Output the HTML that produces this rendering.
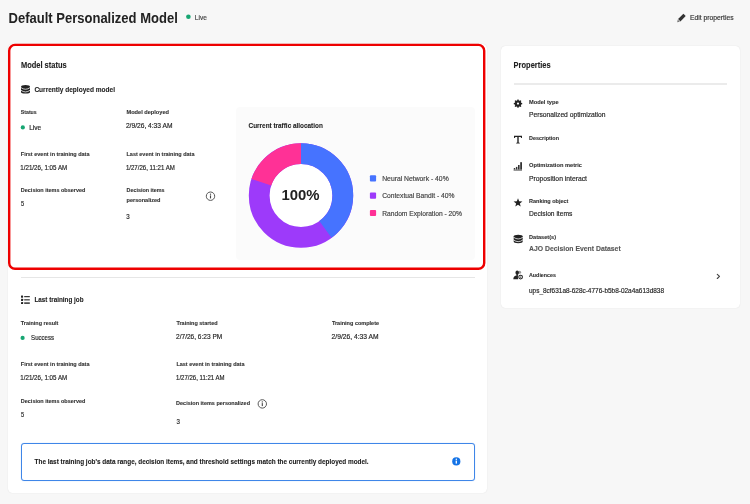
<!DOCTYPE html>
<html><head><meta charset="utf-8">
<style>
*{margin:0;padding:0;box-sizing:border-box}
html,body{width:750px;height:504px;overflow:hidden;background:#f7f7f7;font-family:"Liberation Sans",sans-serif;color:#2c2c2c}
.a{position:absolute}
.card{position:absolute;background:#fff;border-radius:4.5px;box-shadow:0 0 1.2px rgba(0,0,0,.13)}
.dot{position:absolute;width:4.2px;height:4.2px;border-radius:50%;background:#17a672}
svg text{font-family:"Liberation Sans",sans-serif}
</style></head><body>
<!-- cards -->
<div class="card" style="left:8px;top:44px;width:479px;height:448.5px"></div>
<div class="card" style="left:501px;top:46px;width:239px;height:262px"></div>
<!-- chart panel -->
<div class="a" style="left:236px;top:107px;width:239px;height:153px;background:#fbfbfb;border-radius:4px"></div>
<!-- red highlight -->
<!-- dividers -->
<div class="a" style="left:21px;top:277px;width:453.6px;height:1px;background:#e6e6e6"></div>
<div class="a" style="left:513.6px;top:83.2px;width:213.4px;height:1.5px;background:#ebebeb"></div>
<!-- status dots -->
<!-- blue notice -->
<div class="a" style="left:20.5px;top:443px;width:454.3px;height:37.7px;border:1.4px solid #3f86e8;border-radius:3px;background:#fff;box-shadow:0 0 1px #9cc3f5"></div>

<svg class="a" style="left:0;top:0;will-change:transform" width="750" height="504" viewBox="0 0 750 504">
<rect x="9.2" y="44.9" width="475" height="223.9" rx="5.8" fill="none" stroke="#ee0000" stroke-width="2.4"/>
<circle cx="188.4" cy="16.7" r="2.3" fill="#17a672"/><circle cx="22.8" cy="127.4" r="2.1" fill="#17a672"/><circle cx="22.6" cy="337.9" r="2.1" fill="#17a672"/>
<!-- donut -->
<circle cx="301" cy="195.5" r="32" fill="#fff"/>
<g transform="translate(301 195.5) rotate(-90)" fill="none" stroke-width="20.8">
<circle r="41.8" stroke="#9d3afa"/>
<circle r="41.8" stroke="#ff3196" stroke-dasharray="53.2 262.64" stroke-dashoffset="-210.12"/>
<circle r="41.8" stroke="#4673ff" stroke-dasharray="105.06 262.64"/>
</g>
<!-- legend swatches -->
<rect x="369.9" y="175.3" width="6.2" height="6.2" rx="1" fill="#4673ff"/>
<rect x="369.9" y="192.6" width="6.2" height="6.2" rx="1" fill="#9d3afa"/>
<rect x="369.9" y="209.9" width="6.2" height="6.2" rx="1" fill="#ff3196"/>

<!-- pencil -->
<path d="M683.4 13.8 L685.7 16.1 L680.4 21.4 L678.1 19.1 Z" fill="#333"/>
<path d="M677.8 19.6 L679.9 21.7 L677.1 22.3 Z" fill="#777"/>

<!-- db icon (left) -->
<g id="db" fill="#222">
<path d="M21 86.6 A4.5 1.6 0 0 1 30 86.6 V91.9 A4.5 1.6 0 0 1 21 91.9 Z"/>
<path d="M20.8 87.5 Q25.5 91 30.2 87.5 M20.8 90.2 Q25.5 93.7 30.2 90.2" fill="none" stroke="#fff" stroke-width=".75"/>
</g>
<!-- db icon (right) -->
<g fill="#222" transform="translate(492.7 149.7)">
<path d="M21 86.6 A4.5 1.6 0 0 1 30 86.6 V91.9 A4.5 1.6 0 0 1 21 91.9 Z"/>
<path d="M20.8 87.5 Q25.5 91 30.2 87.5 M20.8 90.2 Q25.5 93.7 30.2 90.2" fill="none" stroke="#fff" stroke-width=".75"/>
</g>

<!-- list icon -->
<g fill="#222">
<rect x="21" y="295.6" width="2.1" height="2.1" rx=".4"/><rect x="24.2" y="296.1" width="5.6" height="1.1"/>
<rect x="21" y="298.8" width="2.1" height="2.1" rx=".4"/><rect x="24.2" y="299.3" width="5.6" height="1.1"/>
<rect x="21" y="302" width="2.1" height="2.1" rx=".4"/><rect x="24.2" y="302.4" width="5.6" height="1.4"/>
</g>

<!-- info outline icons -->
<g fill="none" stroke="#555" stroke-width="1">
<circle cx="210.5" cy="196.2" r="4.2"/>
<circle cx="262.3" cy="403.9" r="4.2"/>
</g>
<g fill="#444">
<circle cx="210.5" cy="194.2" r=".65"/><rect x="209.95" y="195.4" width="1.1" height="3"/>
<circle cx="262.3" cy="401.9" r=".65"/><rect x="261.75" y="403.1" width="1.1" height="3"/>
</g>

<!-- info filled -->
<circle cx="456.3" cy="461.4" r="4.1" fill="#1473e6"/>
<circle cx="456.3" cy="459.3" r=".75" fill="#fff"/><rect x="455.65" y="460.6" width="1.3" height="3" fill="#fff"/>

<!-- gear -->
<path fill="#222" fill-rule="evenodd" d="M517.40 99.39 L518.60 99.39 L518.81 100.45 L519.65 100.80 L520.55 100.20 L521.40 101.05 L520.80 101.95 L521.15 102.79 L522.21 103.00 L522.21 104.20 L521.15 104.41 L520.80 105.25 L521.40 106.15 L520.55 107.00 L519.65 106.40 L518.81 106.75 L518.60 107.81 L517.40 107.81 L517.19 106.75 L516.35 106.40 L515.45 107.00 L514.60 106.15 L515.20 105.25 L514.85 104.41 L513.79 104.20 L513.79 103.00 L514.85 102.79 L515.20 101.95 L514.60 101.05 L515.45 100.20 L516.35 100.80 L517.19 100.45 Z M516.9 103.6 a1.1 1.1 0 1 0 2.2 0 a1.1 1.1 0 1 0 -2.2 0 Z"/>
<!-- T icon -->
<path fill="#222" d="M514 135.8 H522 V137.9 H521.2 Q521.1 137 520.2 137 H518.7 V142.2 Q518.7 142.7 519.8 142.8 V143.4 H516.2 V142.8 Q517.3 142.7 517.3 142.2 V137 H515.8 Q514.9 137 514.8 137.9 H514 Z"/>
<!-- bars -->
<g fill="#333">
<rect x="513.8" y="168" width="1.4" height="1.6"/>
<rect x="515.9" y="166.9" width="1.5" height="2.7"/>
<rect x="518" y="165" width="1.6" height="4.6"/>
<rect x="520.2" y="162.2" width="1.8" height="7.4"/>
<rect x="513.6" y="169.6" width="8.4" height="1" fill="#555"/>
</g>
<!-- star -->
<path fill="#222" d="M518.00 198.20 L519.15 201.27 L522.42 201.41 L519.85 203.45 L520.73 206.61 L518.00 204.80 L515.27 206.61 L516.15 203.45 L513.58 201.41 L516.85 201.27 Z"/>
<!-- audience -->
<g>
<circle cx="519.6" cy="272.3" r="1.5" fill="#999"/>
<ellipse cx="517.2" cy="272.7" rx="1.75" ry="2.15" fill="#222"/><rect x="516.5" y="274" width="1.4" height="1.6" fill="#222"/>
<path d="M513.3 279.2 Q513.3 275.6 517 275.2 L518.2 275.2 L518.2 279.2 Z" fill="#222"/>
<circle cx="520.6" cy="277.1" r="2.75" fill="#fff"/>
<circle cx="520.6" cy="277.1" r="1.85" fill="none" stroke="#222" stroke-width="1.05"/>
<circle cx="520.6" cy="277.1" r=".6" fill="#222"/>
</g>
<!-- chevron -->
<path d="M717.3 274.3 L719.5 276.4 L717.3 278.5" fill="none" stroke="#444" stroke-width="1.15" stroke-linecap="round" stroke-linejoin="round"/>

<text x="8.5" y="23.3" font-size="15.1" font-weight="bold" fill="#222" textLength="169.3" lengthAdjust="spacingAndGlyphs">Default Personalized Model</text>
<text x="194.8" y="19.6" font-size="7.4" stroke="#444" stroke-width=".18" fill="#444" textLength="12.1" lengthAdjust="spacingAndGlyphs">Live</text>
<text x="690.0" y="20.4" font-size="7.4" stroke="#333" stroke-width=".18" fill="#333" textLength="43.6" lengthAdjust="spacingAndGlyphs">Edit properties</text>
<text x="21.0" y="68.0" font-size="8.4" font-weight="bold" stroke="#222" stroke-width=".1" fill="#222" textLength="45.6" lengthAdjust="spacingAndGlyphs">Model status</text>
<text x="34.4" y="92.0" font-size="7.6" font-weight="bold" stroke="#222" stroke-width=".1" fill="#222" textLength="80.6" lengthAdjust="spacingAndGlyphs">Currently deployed model</text>
<text x="20.8" y="114.4" font-size="6.0" font-weight="bold" stroke="#333" stroke-width=".12" fill="#333" textLength="15.9" lengthAdjust="spacingAndGlyphs">Status</text>
<text x="29.2" y="129.8" font-size="7.1" stroke="#262626" stroke-width=".18" fill="#262626" textLength="12.0" lengthAdjust="spacingAndGlyphs">Live</text>
<text x="126.5" y="114.4" font-size="6.0" font-weight="bold" stroke="#333" stroke-width=".12" fill="#333" textLength="42.5" lengthAdjust="spacingAndGlyphs">Model deployed</text>
<text x="125.9" y="128.2" font-size="7.1" stroke="#262626" stroke-width=".18" fill="#262626" textLength="46.6" lengthAdjust="spacingAndGlyphs">2/9/26, 4:33 AM</text>
<text x="20.8" y="155.8" font-size="6.0" font-weight="bold" stroke="#333" stroke-width=".12" fill="#333" textLength="68.7" lengthAdjust="spacingAndGlyphs">First event in training data</text>
<text x="20.3" y="170.2" font-size="7.1" stroke="#262626" stroke-width=".18" fill="#262626" textLength="46.9" lengthAdjust="spacingAndGlyphs">1/21/26, 1:05 AM</text>
<text x="126.5" y="155.8" font-size="6.0" font-weight="bold" stroke="#333" stroke-width=".12" fill="#333" textLength="68.0" lengthAdjust="spacingAndGlyphs">Last event in training data</text>
<text x="125.9" y="170.2" font-size="7.1" stroke="#262626" stroke-width=".18" fill="#262626" textLength="49.0" lengthAdjust="spacingAndGlyphs">1/27/26, 11:21 AM</text>
<text x="20.8" y="192.2" font-size="6.0" font-weight="bold" stroke="#333" stroke-width=".12" fill="#333" textLength="64.6" lengthAdjust="spacingAndGlyphs">Decision items observed</text>
<text x="21.1" y="206.0" font-size="7.1" stroke="#262626" stroke-width=".18" fill="#262626" textLength="3.1" lengthAdjust="spacingAndGlyphs">5</text>
<text x="126.5" y="192.2" font-size="6.0" font-weight="bold" stroke="#333" stroke-width=".12" fill="#333" textLength="38.1" lengthAdjust="spacingAndGlyphs">Decision items</text>
<text x="126.5" y="201.6" font-size="6.0" font-weight="bold" stroke="#333" stroke-width=".12" fill="#333" textLength="34.0" lengthAdjust="spacingAndGlyphs">personalized</text>
<text x="126.3" y="218.6" font-size="7.1" stroke="#262626" stroke-width=".18" fill="#262626" textLength="3.4" lengthAdjust="spacingAndGlyphs">3</text>
<text x="248.6" y="128.0" font-size="7.2" font-weight="bold" stroke="#222" stroke-width=".1" fill="#222" textLength="74.2" lengthAdjust="spacingAndGlyphs">Current traffic allocation</text>
<text x="281.4" y="199.6" font-size="15.4" font-weight="bold" fill="#222" textLength="38.1" lengthAdjust="spacingAndGlyphs">100%</text>
<text x="382.2" y="181.0" font-size="7.3" stroke="#444" stroke-width=".18" fill="#444" textLength="66.5" lengthAdjust="spacingAndGlyphs">Neural Network - 40%</text>
<text x="382.2" y="198.3" font-size="7.3" stroke="#444" stroke-width=".18" fill="#444" textLength="72.3" lengthAdjust="spacingAndGlyphs">Contextual Bandit - 40%</text>
<text x="382.2" y="215.6" font-size="7.3" stroke="#444" stroke-width=".18" fill="#444" textLength="79.7" lengthAdjust="spacingAndGlyphs">Random Exploration - 20%</text>
<text x="34.4" y="302.4" font-size="7.6" font-weight="bold" stroke="#222" stroke-width=".1" fill="#222" textLength="49.2" lengthAdjust="spacingAndGlyphs">Last training job</text>
<text x="20.8" y="324.7" font-size="6.0" font-weight="bold" stroke="#333" stroke-width=".12" fill="#333" textLength="37.6" lengthAdjust="spacingAndGlyphs">Training result</text>
<text x="31.1" y="340.2" font-size="7.1" stroke="#262626" stroke-width=".18" fill="#262626" textLength="22.9" lengthAdjust="spacingAndGlyphs">Success</text>
<text x="176.4" y="324.7" font-size="6.0" font-weight="bold" stroke="#333" stroke-width=".12" fill="#333" textLength="41.2" lengthAdjust="spacingAndGlyphs">Training started</text>
<text x="176.1" y="338.7" font-size="7.1" stroke="#262626" stroke-width=".18" fill="#262626" textLength="46.1" lengthAdjust="spacingAndGlyphs">2/7/26, 6:23 PM</text>
<text x="331.9" y="324.7" font-size="6.0" font-weight="bold" stroke="#333" stroke-width=".12" fill="#333" textLength="47.2" lengthAdjust="spacingAndGlyphs">Training complete</text>
<text x="331.6" y="338.7" font-size="7.1" stroke="#262626" stroke-width=".18" fill="#262626" textLength="46.9" lengthAdjust="spacingAndGlyphs">2/9/26, 4:33 AM</text>
<text x="20.8" y="366.3" font-size="6.0" font-weight="bold" stroke="#333" stroke-width=".12" fill="#333" textLength="68.7" lengthAdjust="spacingAndGlyphs">First event in training data</text>
<text x="20.3" y="380.4" font-size="7.1" stroke="#262626" stroke-width=".18" fill="#262626" textLength="46.9" lengthAdjust="spacingAndGlyphs">1/21/26, 1:05 AM</text>
<text x="176.4" y="366.3" font-size="6.0" font-weight="bold" stroke="#333" stroke-width=".12" fill="#333" textLength="68.1" lengthAdjust="spacingAndGlyphs">Last event in training data</text>
<text x="176.1" y="380.4" font-size="7.1" stroke="#262626" stroke-width=".18" fill="#262626" textLength="48.4" lengthAdjust="spacingAndGlyphs">1/27/26, 11:21 AM</text>
<text x="20.8" y="402.7" font-size="6.0" font-weight="bold" stroke="#333" stroke-width=".12" fill="#333" textLength="64.6" lengthAdjust="spacingAndGlyphs">Decision items observed</text>
<text x="21.1" y="416.5" font-size="7.1" stroke="#262626" stroke-width=".18" fill="#262626" textLength="3.1" lengthAdjust="spacingAndGlyphs">5</text>
<text x="176.1" y="404.9" font-size="6.0" font-weight="bold" stroke="#333" stroke-width=".12" fill="#333" textLength="73.9" lengthAdjust="spacingAndGlyphs">Decision items personalized</text>
<text x="176.4" y="424.0" font-size="7.1" stroke="#262626" stroke-width=".18" fill="#262626" textLength="3.4" lengthAdjust="spacingAndGlyphs">3</text>
<text x="34.6" y="463.9" font-size="7.2" font-weight="bold" stroke="#1a1a1a" stroke-width=".1" fill="#1a1a1a" textLength="334.0" lengthAdjust="spacingAndGlyphs">The last training job&#39;s data range, decision items, and threshold settings match the currently deployed model.</text>
<text x="513.6" y="68.0" font-size="8.4" font-weight="bold" stroke="#222" stroke-width=".1" fill="#222" textLength="37.0" lengthAdjust="spacingAndGlyphs">Properties</text>
<text x="529.0" y="103.8" font-size="6.0" font-weight="bold" stroke="#333" stroke-width=".12" fill="#333" textLength="29.6" lengthAdjust="spacingAndGlyphs">Model type</text>
<text x="529.0" y="117.4" font-size="7.3" stroke="#262626" stroke-width=".18" fill="#262626" textLength="76.6" lengthAdjust="spacingAndGlyphs">Personalized optimization</text>
<text x="529.0" y="140.0" font-size="6.0" font-weight="bold" stroke="#333" stroke-width=".12" fill="#333" textLength="30.0" lengthAdjust="spacingAndGlyphs">Description</text>
<text x="529.0" y="166.8" font-size="6.0" font-weight="bold" stroke="#333" stroke-width=".12" fill="#333" textLength="53.0" lengthAdjust="spacingAndGlyphs">Optimization metric</text>
<text x="529.0" y="180.6" font-size="7.3" stroke="#262626" stroke-width=".18" fill="#262626" textLength="58.0" lengthAdjust="spacingAndGlyphs">Proposition interact</text>
<text x="529.0" y="202.8" font-size="6.0" font-weight="bold" stroke="#333" stroke-width=".12" fill="#333" textLength="39.4" lengthAdjust="spacingAndGlyphs">Ranking object</text>
<text x="529.0" y="216.3" font-size="7.3" stroke="#262626" stroke-width=".18" fill="#262626" textLength="43.3" lengthAdjust="spacingAndGlyphs">Decision items</text>
<text x="529.0" y="239.0" font-size="6.0" font-weight="bold" stroke="#333" stroke-width=".12" fill="#333" textLength="27.0" lengthAdjust="spacingAndGlyphs">Dataset(s)</text>
<text x="529.0" y="251.0" font-size="7.3" font-weight="bold" stroke="#555" stroke-width=".1" fill="#555" textLength="91.7" lengthAdjust="spacingAndGlyphs">AJO Decision Event Dataset</text>
<text x="529.0" y="277.0" font-size="6.0" font-weight="bold" stroke="#333" stroke-width=".12" fill="#333" textLength="27.0" lengthAdjust="spacingAndGlyphs">Audiences</text>
<text x="529.0" y="292.7" font-size="7.1" stroke="#262626" stroke-width=".18" fill="#262626" textLength="135.0" lengthAdjust="spacingAndGlyphs">ups_8cf631a8-628c-4776-b5b8-02a4a613d838</text>
</svg>
</body></html>
